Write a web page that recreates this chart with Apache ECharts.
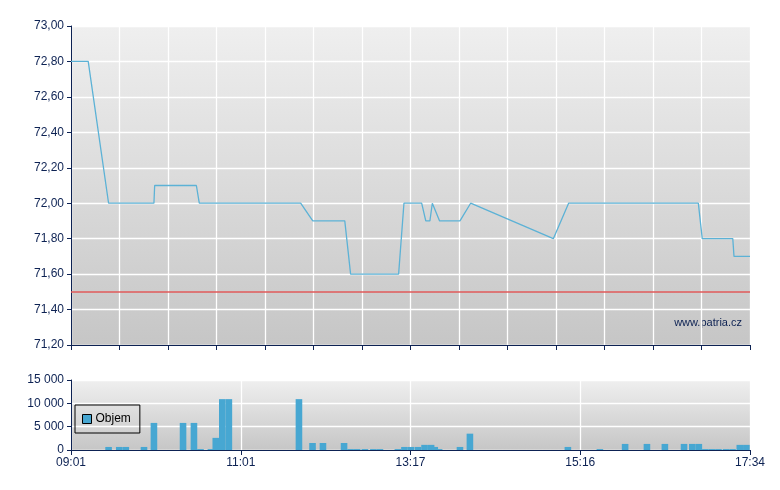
<!DOCTYPE html>
<html><head><meta charset="utf-8">
<script src="https://cdn.jsdelivr.net/npm/echarts@6/dist/echarts.min.js"></script>
<style>html,body{margin:0;padding:0;background:#fff}#c{width:780px;height:490px}</style>
</head><body><div id="c"></div>
<script>
// x positions are in "grid units": 0 = 09:01, 28 = 17:34 (session positions as drawn)
const priceX = [0, 0.71, 1.55, 3.42, 3.45, 5.17, 5.29, 9.47, 9.97, 11.29, 11.53, 13.51, 13.73, 14.46, 14.63, 14.80, 14.90, 15.20, 16.04, 16.48, 19.89, 20.52, 25.87, 26.03, 27.29, 27.34, 28];
const priceY = [72.8, 72.8, 72.0, 72.0, 72.1, 72.1, 72.0, 72.0, 71.9, 71.9, 71.6, 71.6, 72.0, 72.0, 71.9, 71.9, 72.0, 71.9, 71.9, 72.0, 71.8, 72.0, 72.0, 71.8, 71.8, 71.7, 71.7];
const volX = [1.55, 1.99, 2.26, 3.01, 3.42, 4.62, 5.07, 5.34, 5.77, 5.97, 6.24, 6.51, 9.40, 9.96, 10.39, 11.26, 11.53, 11.80, 12.12, 12.47, 12.74, 13.48, 13.75, 14.02, 14.31, 14.58, 14.85, 15.00, 15.18, 16.04, 16.45, 20.49, 21.81, 22.85, 23.75, 24.49, 25.28, 25.62, 25.89, 26.16, 26.43, 26.70, 27.01, 27.28, 27.58, 27.85];
const volY = [650, 650, 650, 650, 5800, 5800, 5800, 200, 200, 2600, 10900, 10900, 10900, 1500, 1500, 1500, 200, 200, 200, 200, 200, 200, 650, 650, 650, 1100, 1100, 650, 200, 650, 3500, 650, 200, 1300, 1300, 1300, 1300, 1300, 1300, 200, 200, 200, 200, 200, 1100, 1100];
const refLevel = 71.5;
const timeLabels = ['09:01', '11:01', '13:17', '15:16', '17:34'];
const volumeName = 'Objem';
const watermark = 'www.patria.cz';

const navy = '#0d2253';
const bg = {type:'linear', x:0, y:0, x2:0, y2:1, colorStops:[{offset:0, color:'#efefef'},{offset:1, color:'#c6c6c6'}]};
const chart = echarts.init(document.getElementById('c'));
const fontFam = 'Liberation Sans, Arial, sans-serif';
chart.setOption({
  animation: false,
  grid: [
    {left:71, right:30, top:26, height:319, show:true, backgroundColor:bg, borderWidth:0},
    {left:71, right:30, top:380, height:70, show:true, backgroundColor:bg, borderWidth:0}
  ],
  legend: {
    data:[volumeName], left:75, top:405, orient:'vertical',
    padding:[8,9,8,7], borderColor:'#000', borderWidth:1,
    itemWidth:9, itemHeight:9, itemGap:0,
    icon:'rect',
    textStyle:{color:'#000', fontSize:12, fontFamily:fontFam, padding:[0,0,0,-1]},
    itemStyle:{borderColor:'#000', borderWidth:1}
  },
  graphic: [{type:'text', right:38, top:317, style:{text:watermark, fill:navy, font:'11px ' + fontFam}}],
  xAxis: [
    {type:'value', gridIndex:0, min:0, max:28, interval:2,
     axisLine:{lineStyle:{color:navy, width:1}}, axisTick:{show:true, length:5, lineStyle:{color:navy}},
     axisLabel:{show:false}, splitLine:{show:true, lineStyle:{color:'#ffffff', width:1.3}}},
    {type:'value', gridIndex:1, min:0, max:28, interval:7,
     axisLine:{lineStyle:{color:navy, width:1}}, axisTick:{show:true, length:5, lineStyle:{color:navy}},
     axisLabel:{color:navy, fontSize:12, fontFamily:fontFam, margin:7, formatter:v => timeLabels[Math.round(v/7)]},
     splitLine:{show:true, lineStyle:{color:'#ffffff', width:1.3}}}
  ],
  yAxis: [
    {type:'value', gridIndex:0, min:71.2, max:73.0, interval:0.2,
     axisLine:{show:true, lineStyle:{color:navy, width:1}}, axisTick:{show:true, length:4, lineStyle:{color:navy}},
     axisLabel:{color:navy, fontSize:12, fontFamily:fontFam, margin:7, formatter:v => v.toFixed(2).replace('.', ',')},
     splitLine:{show:true, lineStyle:{color:'#ffffff', width:1.3}}},
    {type:'value', gridIndex:1, min:0, max:15000, interval:5000,
     axisLine:{show:true, lineStyle:{color:navy, width:1}}, axisTick:{show:true, length:4, lineStyle:{color:navy}},
     axisLabel:{color:navy, fontSize:12, fontFamily:fontFam, margin:7, formatter:v => String(v).replace(/\B(?=(\d{3})+(?!\d))/g, ' ')},
     splitLine:{show:true, lineStyle:{color:'#ffffff', width:1.3}}}
  ],
  series: [
    {type:'line', xAxisIndex:0, yAxisIndex:0, symbol:'none',
     data: priceX.map((x,i) => [x, priceY[i]]),
     lineStyle:{color:'#5cb2d6', width:1.3},
     markLine:{silent:true, symbol:'none', label:{show:false},
       lineStyle:{color:'#e05a5a', width:1.5, type:'solid'},
       data:[{yAxis:refLevel}]}},
    {type:'bar', name:volumeName, xAxisIndex:1, yAxisIndex:1, barWidth:6.6,
     data: volX.map((x,i) => [x, volY[i]]),
     itemStyle:{color:'#47a7d2'}}
  ]
});
</script></body></html>
